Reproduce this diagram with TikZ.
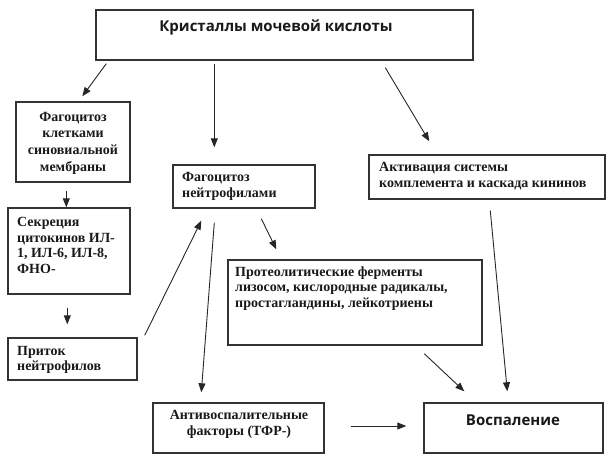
\documentclass[tikz,border=0pt]{standalone}
\usepackage{fontspec}
\setmainfont{Liberation Serif}
\newfontfamily\headfont{Open Sans}
\usetikzlibrary{arrows.meta,calc}
\tikzset{
  box/.style={draw=black!80, line width=1.4pt, inner sep=0pt, fill=white},
  txt/.style={font=\fontsize{14}{15.5}\selectfont\bfseries, inner sep=0pt, text=black!90},
  txtwide/.style={font=\fontsize{14}{16.7}\selectfont\bfseries, inner sep=0pt, text=black!90},
  head/.style={font=\headfont\fontsize{15}{18}\selectfont\bfseries, inner sep=0pt, text=black!90},
  arr/.style={draw=black!85, line width=0.9pt, -{Triangle[length=9pt,width=7pt]}}
}
\begin{document}
\begin{tikzpicture}[x=1pt,y=-1pt]
\useasboundingbox (0,0) rectangle (616,461);
% boxes
\node[box, minimum width=377pt, minimum height=50pt] (top) at (284.5,35) {};
\node[box, minimum width=114pt, minimum height=80pt] (A) at (73,142) {};
\node[box, minimum width=142pt, minimum height=43pt] (F) at (244,186.5) {};
\node[box, minimum width=236pt, minimum height=44pt] (K) at (487,177) {};
\node[box, minimum width=122pt, minimum height=86pt] (S) at (69,251) {};
\node[box, minimum width=254pt, minimum height=85pt] (P) at (355,302.5) {};
\node[box, minimum width=129pt, minimum height=42pt] (Pr) at (72.5,359) {};
\node[box, minimum width=171pt, minimum height=50pt] (Anti) at (238.5,428) {};
\node[box, minimum width=179pt, minimum height=50pt] (V) at (513.5,428) {};
% texts
\node[head] (topt) at (276,27) {Кристаллы мочевой кислоты};
\node[txtwide, align=center] (At) at (73,143) {Фагоцитоз\\клетками\\синовиальной\\мембраны};
\node[txt, align=left, anchor=west] (Ft) at (182,186.5) {Фагоцитоз\\нейтрофилами};
\node[txt, align=left, anchor=west] (Kt) at (379,176) {Активация системы\\комплемента и каскада кининов};
\node[txt, align=left, anchor=west] (St) at (17,245.5) {Секреция\\цитокинов ИЛ-\\1, ИЛ-6, ИЛ-8,\\ФНО-};
\node[txt, align=left, anchor=west] (Pt) at (235,288.5) {Протеолитические ферменты\\лизосом, кислородные радикалы,\\простагландины, лейкотриены};
\node[txt, align=left, anchor=west] (Prt) at (17,360) {Приток\\нейтрофилов};
\node[txt, align=center] (Antit) at (239,424.5) {Антивоспалительные\\факторы (ТФР-)};
\node[head] (Vt) at (513,420) {Воспаление};
% connectors
\draw[arr] ($(top.south west)+(11,3)$) -- ($(A.north west)+(67,-5)$);
\draw[arr] ($(top.south west)+(119,3)$) -- ($(F.north west)+(42,-17)$);
\draw[arr] ($(top.south west)+(290,7)$) -- ($(K.north west)+(61,-13)$);
\draw[arr] ($(A.south west)+(51,8)$) -- ($(S.north west)+(59,0)$);
\draw[arr] ($(S.south west)+(60,13)$) -- ($(Pr.north west)+(60,-13)$);
\draw[arr] ($(Pr.north east)+(7,-2)$) -- ($(F.south west)+(29,12)$);
\draw[arr] ($(F.south west)+(42,14)$) -- ($(Anti.north west)+(49,-10)$);
\draw[arr] ($(F.south west)+(89,10)$) -- ($(P.north west)+(49,-10)$);
\draw[arr] ($(Anti.east)+(26,-2)$) -- ($(V.west)+(-17,-2)$);
\draw[arr] ($(P.south west)+(197,8)$) -- ($(V.north west)+(41,-11)$);
\draw[arr] ($(K.south west)+(122,11)$) -- ($(V.north west)+(84,-11)$);
\end{tikzpicture}
\end{document}
